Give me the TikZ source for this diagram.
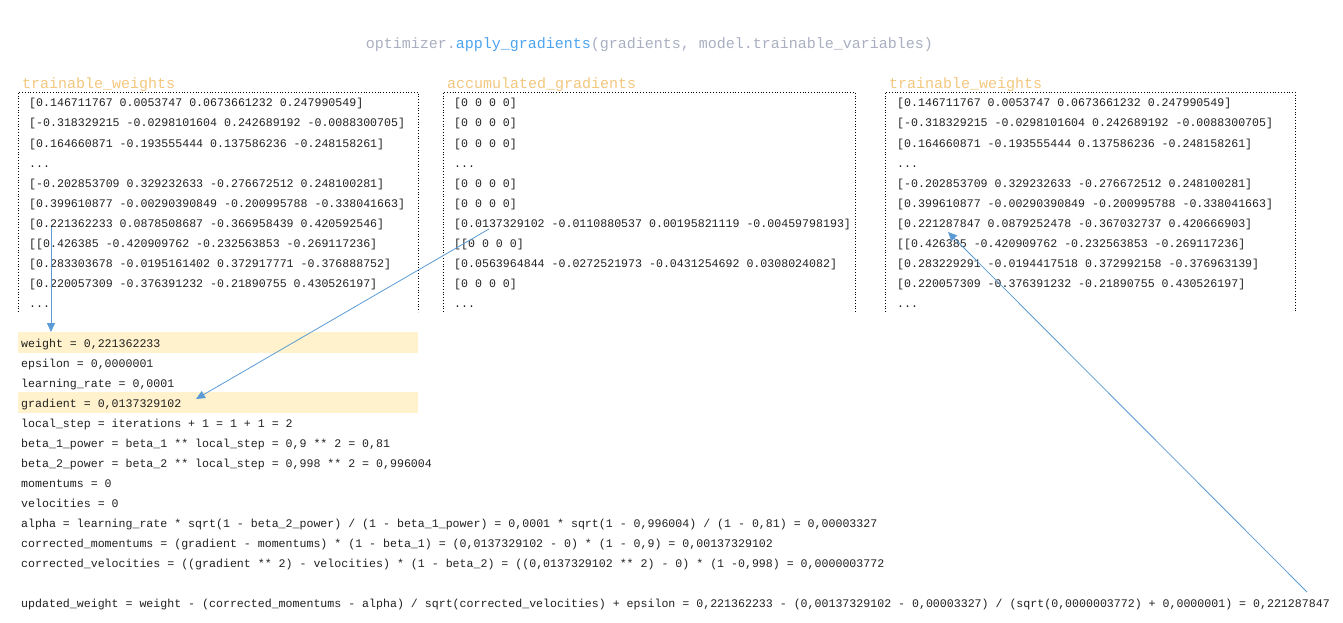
\documentclass[tikz,border=0pt]{standalone}
\usepackage{fontspec}
\usepackage{xcolor}
\usetikzlibrary{positioning, arrows.meta}
\newfontfamily\codefont{Liberation Mono}
\newcommand\rowdots{...}
\definecolor{titlegray}{HTML}{A9AFC0}
\definecolor{callblue}{HTML}{4BA3F0}
\definecolor{headorange}{HTML}{F2C77E}
\definecolor{hlyellow}{HTML}{FFF2CC}
\definecolor{arrowblue}{HTML}{5B9BD5}
\tikzset{
  code/.style={anchor=base west, inner sep=0pt, font=\codefont\fontsize{11.6}{14}\selectfont, text=black!88},
  header/.style={anchor=base west, inner sep=0pt, font=\codefont\fontsize{15}{18}\selectfont, text=headorange},
  hlbar/.style={fill=hlyellow, minimum width=400pt, minimum height=21pt, inner sep=0pt, anchor=north west},
  frame/.style={dotted, line width=0.8pt},
  conn/.style={arrowblue, line width=0.8pt, -{Triangle[length=9pt, width=8pt]}},
}

\begin{document}
\begin{tikzpicture}[x=1pt, y=-1pt]
    \useasboundingbox (0,0) rectangle (1343,623);

    % call
    \node[anchor=base, inner sep=0pt, font=\codefont\fontsize{15}{18}\selectfont] (call) at (649.5,49)
        {\textcolor{titlegray}{optimizer.}\textcolor{callblue}{apply\_gradients}\textcolor{titlegray}{(gradients, model.trainable\_variables)}};

    % headers and frames
    \node[header] (hweights) at (22,88.5) {trainable\_weights};
    \node[header] (hgrads) at (447,88.5) {accumulated\_gradients};
    \node[header] (hnew) at (889,88.5) {trainable\_weights};
    \draw[frame] (18,312) -- (18,92) -- (418,92) -- (418,312);
    \draw[frame] (443,312) -- (443,92) -- (855,92) -- (855,312);
    \draw[frame] (885,312) -- (885,92) -- (1295,92) -- (1295,312);

    % old weights
    \foreach \row [count=\i] in {
        {[0.146711767 0.0053747 0.0673661232 0.247990549]},
        {[-0.318329215 -0.0298101604 0.242689192 -0.0088300705]},
        {[0.164660871 -0.193555444 0.137586236 -0.248158261]},
        {\rowdots},
        {[-0.202853709 0.329232633 -0.276672512 0.248100281]},
        {[0.399610877 -0.00290390849 -0.200995788 -0.338041663]},
        {[0.221362233 0.0878508687 -0.366958439 0.420592546]},
        {[[0.426385 -0.420909762 -0.232563853 -0.269117236]},
        {[0.283303678 -0.0195161402 0.372917771 -0.376888752]},
        {[0.220057309 -0.376391232 -0.21890755 0.430526197]},
        {\rowdots}}
        \node[code] (w\i) at (29,87+20*\i) {\row};

    % gradients
    \foreach \row [count=\i] in {
        {[0 0 0 0]}, {[0 0 0 0]}, {[0 0 0 0]}, {\rowdots}, {[0 0 0 0]}, {[0 0 0 0]},
        {[0.0137329102 -0.0110880537 0.00195821119 -0.00459798193]},
        {[[0 0 0 0]},
        {[0.0563964844 -0.0272521973 -0.0431254692 0.0308024082]},
        {[0 0 0 0]}, {\rowdots}}
        \node[code] (g\i) at (454,87+20*\i) {\row};

    % new weights
    \foreach \row [count=\i] in {
        {[0.146711767 0.0053747 0.0673661232 0.247990549]},
        {[-0.318329215 -0.0298101604 0.242689192 -0.0088300705]},
        {[0.164660871 -0.193555444 0.137586236 -0.248158261]},
        {\rowdots},
        {[-0.202853709 0.329232633 -0.276672512 0.248100281]},
        {[0.399610877 -0.00290390849 -0.200995788 -0.338041663]},
        {[0.221287847 0.0879252478 -0.367032737 0.420666903]},
        {[[0.426385 -0.420909762 -0.232563853 -0.269117236]},
        {[0.283229291 -0.0194417518 0.372992158 -0.376963139]},
        {[0.220057309 -0.376391232 -0.21890755 0.430526197]},
        {\rowdots}}
        \node[code] (n\i) at (897,87+20*\i) {\row};

    % highlighted inputs
    \node[hlbar] (weightbar) at (18,332) {};
    \node[hlbar] (gradbar) at (18,392) {};

    % calculation
    \foreach \line [count=\i] in {
        {weight = 0,221362233},
        {epsilon = 0,0000001},
        {learning\_rate = 0,0001},
        {gradient = 0,0137329102},
        {local\_step = iterations + 1 = 1 + 1 = 2},
        {beta\_1\_power = beta\_1 ** local\_step = 0,9 ** 2 = 0,81},
        {beta\_2\_power = beta\_2 ** local\_step = 0,998 ** 2 = 0,996004},
        {momentums = 0},
        {velocities = 0},
        {alpha = learning\_rate * sqrt(1 - beta\_2\_power) / (1 - beta\_1\_power) = 0,0001 * sqrt(1 - 0,996004) / (1 - 0,81) = 0,00003327},
        {corrected\_momentums = (gradient - momentums) * (1 - beta\_1) = (0,0137329102 - 0) * (1 - 0,9) = 0,00137329102},
        {corrected\_velocities = ((gradient ** 2) - velocities) * (1 - beta\_2) = ((0,0137329102 ** 2) - 0) * (1 -0,998) = 0,0000003772}}
        \node[code] (c\i) at (21,327+20*\i) {\line};
    \node[code] (update) at (21,607) {updated\_weight = weight - (corrected\_momentums - alpha) / sqrt(corrected\_velocities) + epsilon = 0,221362233 - (0,00137329102 - 0,00003327) / (sqrt(0,0000003772) + 0,0000001) = 0,221287847};

    % connectors
    \coordinate (wsrc) at (51,227);
    \coordinate (gsrc) at (489,229);
    \coordinate (gdst) at (196,399);
    \coordinate (usrc) at (1307,592);
    \coordinate (udst) at (948,232);
    \draw[conn] (wsrc) -- (wsrc |- weightbar.north);
    \draw[conn] (gsrc) -- (gdst);
    \draw[conn] (usrc) -- (udst);
\end{tikzpicture}
\end{document}
